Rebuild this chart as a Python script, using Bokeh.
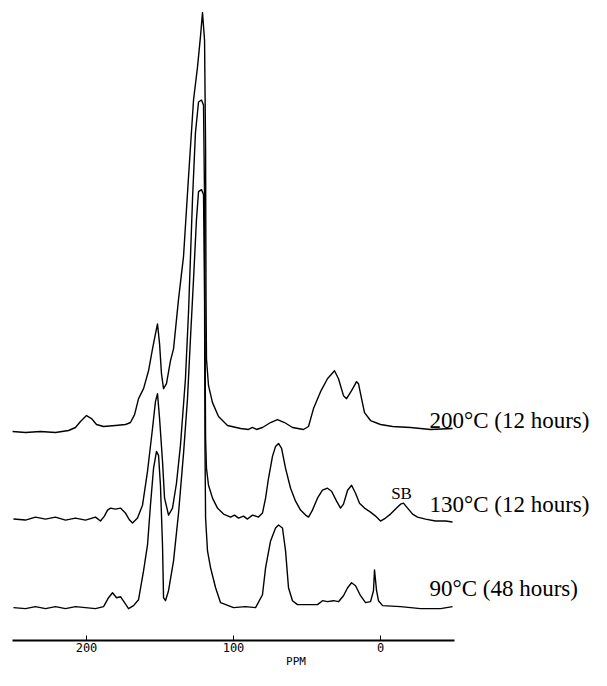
from bokeh.plotting import figure
from bokeh.models import Range1d, FixedTicker
from bokeh.core.properties import value
from bokeh.embed import file_html
from bokeh.resources import INLINE

# ---- data (chemical shift in ppm, intensity in arbitrary units) ----
TOP_PPM = [250.3, 241.5, 231.3, 221.1, 212.2, 207.5, 204.1, 200.0, 196.6, 193.2,
           188.4, 180.3, 173.5, 170.1, 167.3, 164.6, 161.2, 157.8, 155.1, 153.1,
           151.7, 150.3, 149.0, 147.6, 145.6, 142.9, 140.8, 137.4, 134.0, 130.6,
           127.2, 124.5, 122.4, 121.1, 119.7, 119.0, 118.7, 118.4, 117.0, 114.3,
           110.2, 104.1, 95.2, 89.8, 87.1, 84.4, 80.3, 74.8, 70.1, 65.3,
           59.9, 52.4, 49.0, 45.6, 40.8, 36.1, 31.3, 28.6, 25.2, 23.1,
           19.7, 16.3, 15.0, 12.9, 10.9, 6.8, 0.0, -8.2, -20.4, -34.0, -49.0]
TOP_INT = [-1, -2, -1, -2, 0, 3, 9, 15, 12, 6,
           4, 5, 6, 8, 16, 32, 42, 60, 82, 97,
           107, 87, 57, 42, 47, 70, 82, 132, 175, 255,
           332, 365, 397, 420, 392, 282, 132, 72, 45, 28,
           14, 5, 2, 1, 3, 1, 3, 8, 11, 8,
           3, 1, 4, 22, 39, 52, 60, 52, 35, 32,
           40, 49, 47, 32, 18, 10, 6, 4, 3, 1, 2]

MID_PPM = [249.7, 241.5, 234.7, 227.9, 221.1, 214.3, 207.5, 200.7, 193.9, 190.5,
           187.8, 185.7, 183.7, 180.3, 176.9, 173.5, 170.7, 168.7, 165.3, 161.9,
           158.5, 155.1, 153.1, 151.7, 150.3, 148.3, 146.9, 144.2, 141.5, 138.8,
           136.1, 132.7, 130.6, 127.9, 125.9, 123.8, 121.8, 120.4, 119.7, 119.4,
           119.0, 118.4, 117.0, 114.3, 110.9, 106.8, 102.0, 99.3, 96.6, 93.2,
           90.5, 87.1, 83.0, 80.3, 78.2, 76.2, 73.5, 71.4, 69.4, 67.3,
           64.6, 61.2, 57.8, 54.4, 51.0, 49.0, 46.3, 42.9, 39.5, 36.1,
           33.3, 29.9, 27.2, 25.2, 22.4, 19.7, 17.0, 14.3, 10.9, 6.8,
           3.4, 0.0, -3.4, -6.8, -10.2, -13.6, -15.6, -18.4, -21.8, -25.2,
           -30.6, -37.4, -44.2, -49.0]
MID_INT = [0, -1, 2, 0, 2, -1, 1, -1, 2, -2,
           3, 9, 11, 10, 11, 6, -1, -4, 1, 14,
           48, 91, 118, 126, 101, 58, 21, 4, 11, 36,
           74, 141, 208, 321, 388, 419, 421, 416, 321, 191,
           81, 51, 34, 21, 11, 5, 2, 4, 1, 3,
           0, 4, 2, 6, 21, 41, 63, 73, 76, 71,
           51, 31, 18, 9, 4, 2, 9, 21, 29, 31,
           28, 18, 11, 15, 29, 34, 26, 16, 11, 7,
           3, -2, 1, 5, 10, 15, 16, 11, 5, 2,
           0, -2, -2, -3]

BOT_PPM = [249.7, 241.5, 234.7, 227.9, 221.1, 214.3, 207.5, 200.7, 193.9, 188.4,
           185.0, 182.3, 179.6, 176.9, 174.1, 171.4, 168.0, 164.6, 161.2, 158.5,
           156.5, 154.4, 152.4, 151.0, 149.7, 148.3, 147.6, 146.3, 144.2, 140.8,
           137.4, 134.0, 131.3, 129.3, 127.2, 125.2, 123.8, 121.8, 120.4, 119.7,
           119.4, 119.0, 117.7, 115.6, 112.2, 108.8, 100.0, 91.8, 85.0, 80.3,
           78.2, 74.8, 71.4, 69.4, 66.7, 64.6, 62.6, 59.9, 56.5, 42.9,
           39.5, 36.1, 32.0, 28.6, 25.2, 22.4, 19.7, 17.0, 13.6, 10.2,
           6.8, 4.8, 4.1, 2.7, 1.4, -1.4, -13.6, -27.2, -40.8, -49.0]
BOT_INT = [0, -1, 1, -1, 1, -1, 1, 0, -1, 1,
           10, 15, 10, 11, 5, -1, 2, 8, 37, 63,
           103, 140, 157, 153, 123, 63, 10, 7, 17, 47,
           95, 155, 210, 270, 330, 390, 418, 420, 415, 310,
           160, 90, 57, 40, 20, 5, 0, 1, 0, 13,
           40, 67, 80, 83, 80, 57, 20, 7, 3, 3,
           7, 6, 7, 6, 12, 20, 25, 22, 12, 5,
           6, 17, 38, 17, 7, 2, 1, -1, -1, 1]

SERIES_LABELS = ["200°C (12 hours)", "130°C (12 hours)", "90°C (48 hours)"]
PEAK_NOTE = "SB"
TICKS = [200, 100, 0]
AXIS_TITLE = "PPM"

# ---- layout constants (vertical stacking offsets, label placement) ----
FRAME_H = 643
OFFSETS = [FRAME_H - 432, FRAME_H - 521, FRAME_H - 610]
LABEL_X = -33.3
LABEL_Y = [FRAME_H - 422, FRAME_H - 506, FRAME_H - 591]
NOTE_Y = FRAME_H - 495

p = figure(width=591, height=670,
           x_range=Range1d(258.5, -143.5), y_range=Range1d(0, FRAME_H),
           output_backend="svg", toolbar_location=None,
           y_axis_location=None,
           min_border_left=0, min_border_right=0,
           min_border_top=0, min_border_bottom=670 - FRAME_H)
p.grid.visible = False
p.outline_line_color = None
p.background_fill_color = "white"
p.border_fill_color = "white"

for ppm, inten, off in zip([TOP_PPM, MID_PPM, BOT_PPM],
                           [TOP_INT, MID_INT, BOT_INT], OFFSETS):
    p.line(ppm, [i + off for i in inten],
           line_color="black", line_width=1.4, line_join="round")

p.text(x=[LABEL_X] * 3, y=LABEL_Y, text=SERIES_LABELS,
       text_font=value("Liberation Serif"), text_font_size="23px",
       text_align="left", text_baseline="alphabetic", text_color="black")
p.text(x=[-14.3], y=[NOTE_Y], text=[PEAK_NOTE],
       text_font=value("Liberation Serif"), text_font_size="17px",
       text_align="center", text_baseline="alphabetic", text_color="black")

ax = p.xaxis[0]
ax.ticker = FixedTicker(ticks=TICKS)
ax.bounds = (-50, 250)
ax.axis_line_width = 2
ax.axis_line_color = "black"
ax.major_tick_in = 5
ax.major_tick_out = 0
ax.major_tick_line_color = "black"
ax.minor_tick_in = 0
ax.minor_tick_out = 0
ax.major_label_text_font = "DejaVu Sans Mono"
ax.major_label_text_font_size = "12px"
ax.major_label_text_color = "black"
ax.major_label_standoff = 2
ax.axis_label = AXIS_TITLE
ax.axis_label_standoff = 0
ax.axis_label_text_font = "DejaVu Sans Mono"
ax.axis_label_text_font_size = "11px"
ax.axis_label_text_font_style = "normal"
ax.axis_label_text_color = "black"

open("out.html", "w").write(file_html(p, INLINE))
